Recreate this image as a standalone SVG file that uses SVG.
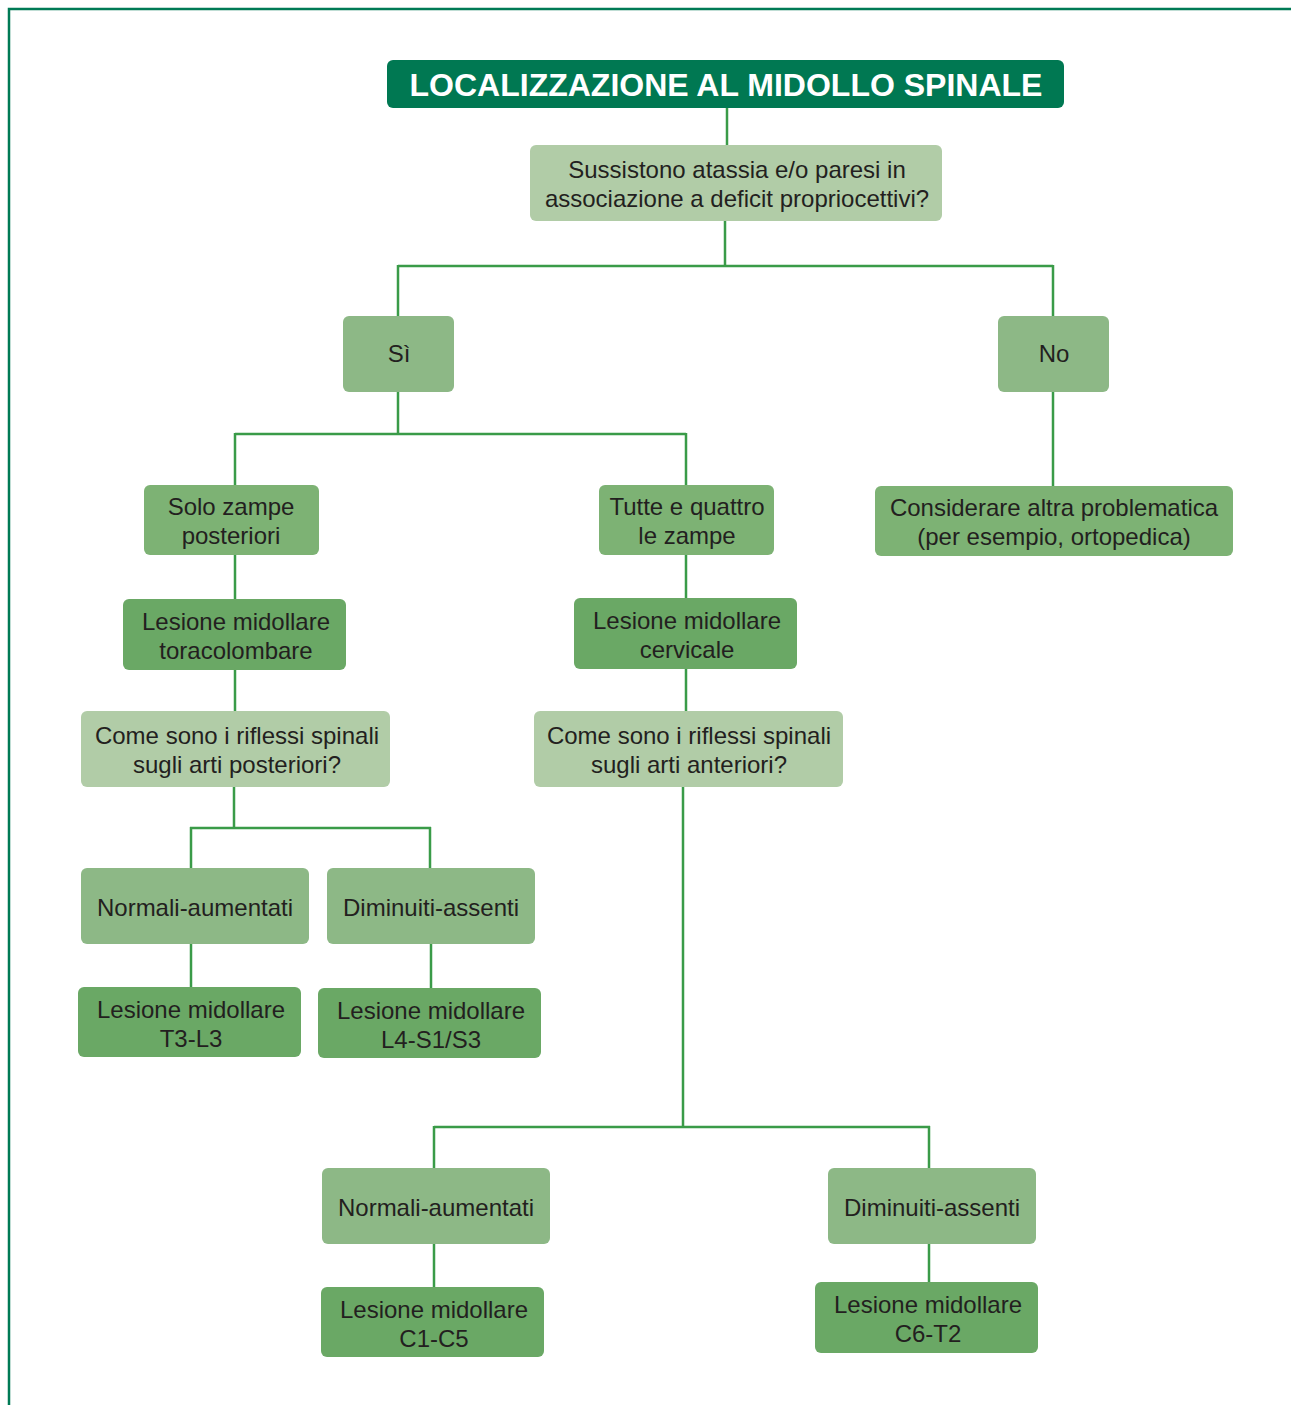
<svg xmlns="http://www.w3.org/2000/svg" width="1291" height="1405" viewBox="0 0 1291 1405">
<style>
.t{font-family:"Liberation Sans",Arial,sans-serif;font-size:24px;fill:#231f20;text-anchor:middle}
.title{font-family:"Liberation Sans",Arial,sans-serif;font-size:32px;font-weight:bold;fill:#ffffff;text-anchor:middle}
.q{fill:#b1cca7}
.a{fill:#8db886}
.b{fill:#7db274}
.l{fill:#6aa865}
.c{stroke:#3a9b48;stroke-width:2.5;fill:none}
</style>
<rect width="1291" height="1405" fill="#ffffff"/>
<path d="M9 1405 V9 H1291" fill="none" stroke="#007a55" stroke-width="2.5"/>
<g id="connectors">
<path class="c" d="M727 108 V145"/>
<path class="c" d="M725 221 V266 M398 266 H1053 M398 265 V316 M1053 265 V316"/>
<path class="c" d="M398 392 V434 M235 434 H686 M235 433 V485 M686 433 V485"/>
<path class="c" d="M1053 392 V486"/>
<path class="c" d="M235 555 V599 M686 555 V598"/>
<path class="c" d="M235 670 V711 M686 669 V711"/>
<path class="c" d="M234 787 V828 M190 828 H431 M191 827 V868 M430 827 V868"/>
<path class="c" d="M191 944 V988 M431 944 V988"/>
<path class="c" d="M683 787 V1127 M434 1127 H930 M434 1126 V1168 M929 1126 V1168"/>
<path class="c" d="M434 1244 V1287 M929 1244 V1283"/>
</g>
<g id="title">
<rect x="387" y="60" width="677" height="48" rx="6" fill="#007852"/>
<text class="title" x="726" y="95.5">LOCALIZZAZIONE AL MIDOLLO SPINALE</text>
</g>
<g id="q1">
<rect class="q" x="530" y="145" width="412" height="76" rx="6"/>
<text class="t" x="737" y="178">Sussistono atassia e/o paresi in</text>
<text class="t" x="737" y="207">associazione a deficit propriocettivi?</text>
</g>
<g id="si">
<rect class="a" x="343" y="316" width="111" height="76" rx="6"/>
<text class="t" x="399" y="362">Sì</text>
</g>
<g id="no">
<rect class="a" x="998" y="316" width="111" height="76" rx="6"/>
<text class="t" x="1054" y="362">No</text>
</g>
<g id="solo">
<rect class="b" x="144" y="485" width="175" height="70" rx="6"/>
<text class="t" x="231" y="515">Solo zampe</text>
<text class="t" x="231" y="544">posteriori</text>
</g>
<g id="tutte">
<rect class="b" x="599" y="485" width="175" height="70" rx="6"/>
<text class="t" x="687" y="515">Tutte e quattro</text>
<text class="t" x="687" y="544">le zampe</text>
</g>
<g id="considerare">
<rect class="b" x="875" y="486" width="358" height="70" rx="6"/>
<text class="t" x="1054" y="516">Considerare altra problematica</text>
<text class="t" x="1054" y="545">(per esempio, ortopedica)</text>
</g>
<g id="toraco">
<rect class="l" x="123" y="599" width="223" height="71" rx="6"/>
<text class="t" x="236" y="630">Lesione midollare</text>
<text class="t" x="236" y="659">toracolombare</text>
</g>
<g id="cervicale">
<rect class="l" x="574" y="598" width="223" height="71" rx="6"/>
<text class="t" x="687" y="629">Lesione midollare</text>
<text class="t" x="687" y="658">cervicale</text>
</g>
<g id="q-post">
<rect class="q" x="81" y="711" width="309" height="76" rx="6"/>
<text class="t" x="237" y="744">Come sono i riflessi spinali</text>
<text class="t" x="237" y="773">sugli arti posteriori?</text>
</g>
<g id="q-ant">
<rect class="q" x="534" y="711" width="309" height="76" rx="6"/>
<text class="t" x="689" y="744">Come sono i riflessi spinali</text>
<text class="t" x="689" y="773">sugli arti anteriori?</text>
</g>
<g id="norm-post">
<rect class="a" x="81" y="868" width="228" height="76" rx="6"/>
<text class="t" x="195" y="916">Normali-aumentati</text>
</g>
<g id="dim-post">
<rect class="a" x="327" y="868" width="208" height="76" rx="6"/>
<text class="t" x="431" y="916">Diminuiti-assenti</text>
</g>
<g id="t3l3">
<rect class="l" x="78" y="987" width="223" height="70" rx="6"/>
<text class="t" x="191" y="1018">Lesione midollare</text>
<text class="t" x="191" y="1047">T3-L3</text>
</g>
<g id="l4s1">
<rect class="l" x="318" y="988" width="223" height="70" rx="6"/>
<text class="t" x="431" y="1019">Lesione midollare</text>
<text class="t" x="431" y="1048">L4-S1/S3</text>
</g>
<g id="norm-ant">
<rect class="a" x="322" y="1168" width="228" height="76" rx="6"/>
<text class="t" x="436" y="1216">Normali-aumentati</text>
</g>
<g id="dim-ant">
<rect class="a" x="828" y="1168" width="208" height="76" rx="6"/>
<text class="t" x="932" y="1216">Diminuiti-assenti</text>
</g>
<g id="c1c5">
<rect class="l" x="321" y="1287" width="223" height="70" rx="6"/>
<text class="t" x="434" y="1318">Lesione midollare</text>
<text class="t" x="434" y="1347">C1-C5</text>
</g>
<g id="c6t2">
<rect class="l" x="815" y="1282" width="223" height="71" rx="6"/>
<text class="t" x="928" y="1313">Lesione midollare</text>
<text class="t" x="928" y="1342">C6-T2</text>
</g>
</svg>
